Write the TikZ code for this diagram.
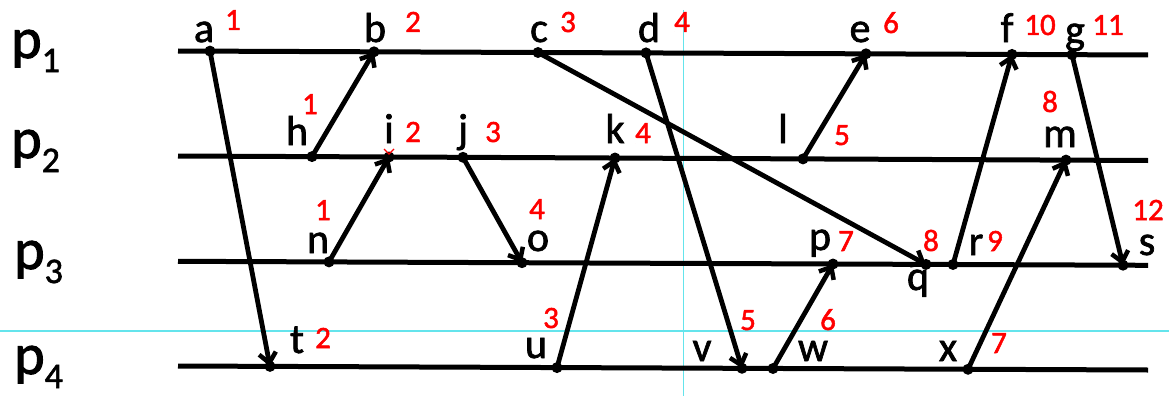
\documentclass[tikz,border=0pt]{standalone}
\usepackage{fontspec}
\setmainfont{Carlito}
\newfontfamily\heavyfont[FakeBold=1.6]{Carlito}
\usetikzlibrary{arrows.meta}
\definecolor{guidecyan}{RGB}{100,228,236}

\begin{document}
\begin{tikzpicture}[x=1pt,y=-1pt,
    proc/.style={line width=5pt},
    msg/.style={line width=4.8pt,-{Straight Barb[length=10pt,width=17pt,line width=4.5pt]}},
    guide/.style={guidecyan,line width=1.6pt},
    lbl/.style={anchor=base,inner sep=0pt,font=\heavyfont\fontsize{42}{46}\selectfont},
    num/.style={anchor=base,inner sep=0pt,text=red,font=\heavyfont\fontsize{31}{34}\selectfont},
    pname/.style={anchor=base west,inner sep=0pt,font=\heavyfont\fontsize{58}{62}\selectfont}]
    \useasboundingbox (0,0) rectangle (1169,396);
    % guide lines
    \coordinate (gv1) at (683.5,10);
    \coordinate (gv2) at (683.5,396);
    \coordinate (gh1) at (0,331);
    \coordinate (gh2) at (1169,331);
    \draw[guide] (gv1) -- (gv2);
    \draw[guide] (gh1) -- (gh2);
    % process lines
    \coordinate (L1) at (178,51);    \coordinate (R1) at (1148,55);
    \coordinate (L2) at (178,156);   \coordinate (R2) at (1148,160.5);
    \coordinate (L3) at (178,261.3); \coordinate (R3) at (1148,265.3);
    \coordinate (L4) at (178,366);   \coordinate (R4) at (1148,370);
    \draw[proc] (L1) -- (R1);
    \draw[proc] (L2) -- (R2);
    \draw[proc] (L3) -- (R3);
    \draw[proc] (L4) -- (R4);
    \node[pname] (P1) at (11,58)  {p\raisebox{-14pt}{\fontsize{36}{40}\selectfont 1}};
    \node[pname] (P2) at (11,158) {p\raisebox{-14pt}{\fontsize{36}{40}\selectfont 2}};
    \node[pname] (P3) at (14,269) {p\raisebox{-14pt}{\fontsize{36}{40}\selectfont 3}};
    \node[pname] (P4) at (14,374) {p\raisebox{-14pt}{\fontsize{36}{40}\selectfont 4}};
    % events on p1
    \coordinate (a) at (210,51.1);
    \coordinate (b) at (374,51.8);
    \coordinate (c) at (538,52.5);
    \coordinate (d) at (646,52.9);
    \coordinate (e) at (866,53.8);
    \coordinate (f) at (1012,54.4);
    \coordinate (g) at (1072,54.7);
    % events on p2
    \coordinate (h) at (312,156.6);
    \coordinate (i) at (389,157);
    \coordinate (j) at (463,157.3);
    \coordinate (k) at (615,158);
    \coordinate (l) at (803,158.9);
    \coordinate (m) at (1066,160.1);
    % events on p3
    \coordinate (n) at (329,261.9);
    \coordinate (o) at (522,262.7);
    \coordinate (p) at (833,264);
    \coordinate (q) at (926,264.4);
    \coordinate (r) at (953,264.5);
    \coordinate (s) at (1123,265.2);
    % events on p4
    \coordinate (t) at (270,366.4);
    \coordinate (u) at (557,367.6);
    \coordinate (v) at (742,368.3);
    \coordinate (w) at (773,368.5);
    \coordinate (x) at (968,369.3);
    \foreach \ev in {a,b,c,d,e,f,g,h,i,j,k,l,m,n,o,p,q,r,s,t,u,v,w,x}
        \fill (\ev) circle (5.5pt);
    % messages
    \draw[msg] (a) -- (t);
    \draw[msg] (h) -- (b);
    \draw[msg] (c) -- (q);
    \draw[msg] (d) -- (v);
    \draw[msg] (n) -- (i);
    \draw[msg] (j) -- (o);
    \draw[msg] (u) -- (k);
    \draw[msg] (l) -- (e);
    \draw[msg] (w) -- (p);
    \draw[msg] (r) -- (f);
    \draw[msg] (x) -- (m);
    \draw[msg] (g) -- (s);
    % red mark at i
    \draw[red,line width=1.2pt] (384,149) -- (389,154) -- (394,149);
    % event names
    \node[lbl] (la) at (204,42) {a};
    \node[lbl] (lb) at (375,42) {b};
    \node[lbl] (lc) at (539,42) {c};
    \node[lbl] (ld) at (649,42) {d};
    \node[lbl] (le) at (860,42) {e};
    \node[lbl] (lf) at (1007,42) {f};
    \node[lbl] (lg) at (1075,44) {g};
    \node[lbl] (lh) at (297,145) {h};
    \node[lbl] (li) at (389,143) {i};
    \node[lbl] (lj) at (463,143) {j};
    \node[lbl] (lk) at (615,143) {k};
    \node[lbl] (ll) at (783,143) {l};
    \node[lbl] (lm) at (1060,147) {m};
    \node[lbl] (ln) at (318,253) {n};
    \node[lbl] (lo) at (538,251) {o};
    \node[lbl] (lp) at (820,250) {p};
    \node[lbl] (lq) at (918,290) {q};
    \node[lbl] (lr) at (976,255) {r};
    \node[lbl] (ls) at (1147,255) {s};
    \node[lbl] (lt) at (297,353) {t};
    \node[lbl] (lu) at (536,358) {u};
    \node[lbl] (lv) at (702,361) {v};
    \node[lbl] (lw) at (813,361) {w};
    \node[lbl] (lx) at (948,361) {x};
    % clock values
    \node[num] (na) at (233,30) {1};
    \node[num] (nb) at (413,32) {2};
    \node[num] (nc) at (568,32) {3};
    \node[num] (nd) at (682,32) {4};
    \node[num] (ne) at (891,33) {6};
    \node[num] (nf) at (1040,35) {10};
    \node[num] (ng) at (1108,35) {11};
    \node[num] (nh) at (310,114) {1};
    \node[num] (ni) at (413,142) {2};
    \node[num] (nj) at (493,142) {3};
    \node[num] (nk) at (643,143) {4};
    \node[num] (nl) at (842,145) {5};
    \node[num] (nm) at (1050,112) {8};
    \node[num] (nn) at (323,220) {1};
    \node[num] (no) at (537,219) {4};
    \node[num] (np) at (846,251) {7};
    \node[num] (nq) at (931,251) {8};
    \node[num] (nr) at (995,251) {9};
    \node[num] (ns) at (1148,220) {12};
    \node[num] (nt) at (323,348) {2};
    \node[num] (nu) at (551,328) {3};
    \node[num] (nv) at (748,330) {5};
    \node[num] (nw) at (828,330) {6};
    \node[num] (nx) at (999,353) {7};
\end{tikzpicture}
\end{document}
